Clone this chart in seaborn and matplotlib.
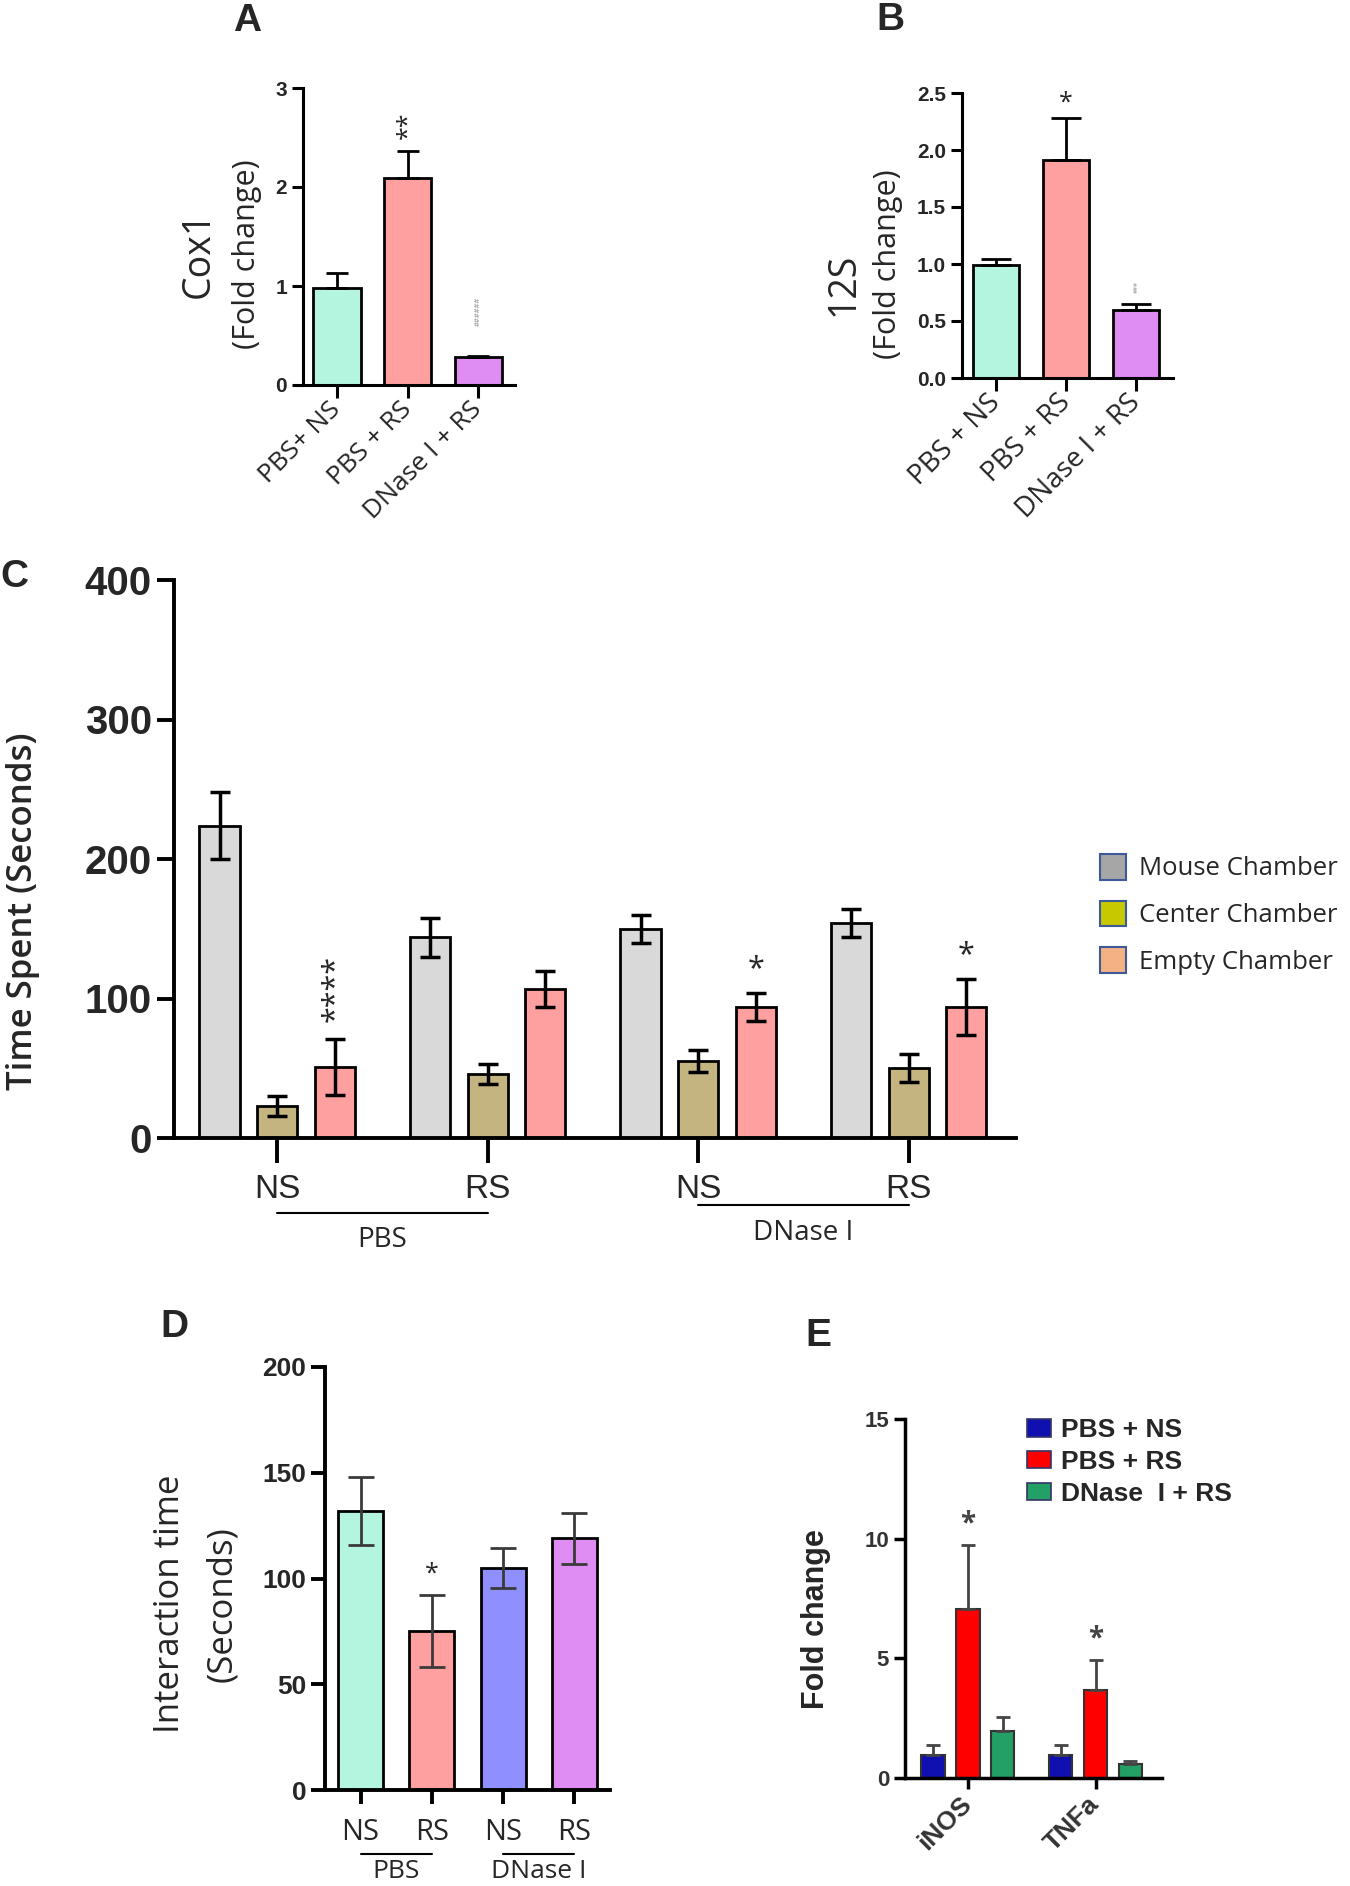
import matplotlib
matplotlib.use("Agg")
import matplotlib.pyplot as plt
from matplotlib import transforms
from matplotlib.patches import Patch
import numpy as np
import pandas as pd
import seaborn as sns

# panel A: Cox1 fold change
a_groups = ["PBS+ NS", "PBS + RS", "DNase I + RS"]
cox1_mean = [0.98, 2.09, 0.28]
cox1_sem = [0.15, 0.27, 0.01]
cox1_marks = ["", "**", "######"]

# panel B: 12S fold change
b_groups = ["PBS + NS", "PBS + RS", "DNase I + RS"]
s12_mean = [0.99, 1.91, 0.60]
s12_sem = [0.05, 0.37, 0.05]
s12_marks = ["", "*", "###"]
ab_colors = ["#b3f5de", "#ffa0a0", "#df8cf3"]

# panel C: three chamber test
c_groups = ["PBS NS", "PBS RS", "DNase NS", "DNase RS"]
c_tick_labels = ["NS", "RS", "NS", "RS"]
chambers = ["Mouse Chamber", "Center Chamber", "Empty Chamber"]
mouse_time = [224, 144, 150, 154]
mouse_sem = [24, 14, 10, 10]
center_time = [23, 46, 55, 50]
center_sem = [7, 7, 8, 10]
empty_time = [51, 107, 94, 94]
empty_sem = [20, 13, 10, 20]
empty_marks = ["****", "", "*", "*"]
c_bar_colors = ["#d9d9d9", "#c4b47f", "#ffa0a0"]
c_legend_colors = ["#a6a6a6", "#c8c800", "#f4b183"]

# panel D: interaction time
d_groups = ["PBS NS", "PBS RS", "DNase NS", "DNase RS"]
d_tick_labels = ["NS", "RS", "NS", "RS"]
interaction_time = [132, 75, 105, 119]
interaction_sem = [16, 17, 9.5, 12]
d_marks = ["", "*", "", ""]
d_colors = ["#b3f5de", "#ffa0a0", "#8f8fff", "#df8cf3"]

# panel E: iNOS / TNFa
genes = ["iNOS", "TNFa"]
e_treatments = ["PBS + NS", "PBS + RS", "DNase  I + RS"]
pbs_ns_fc = [0.97, 0.97]
pbs_ns_sem = [0.4, 0.4]
pbs_rs_fc = [7.06, 3.67]
pbs_rs_sem = [2.66, 1.25]
dnase_rs_fc = [1.98, 0.59]
dnase_rs_sem = [0.55, 0.11]
e_colors = ["#1010b0", "#ff0000", "#22a065"]

label_font = ["Open Sans", "DejaVu Sans"]
arial = ["Liberation Sans", "DejaVu Sans"]
narrow = ["Liberation Sans Narrow", "Liberation Sans", "DejaVu Sans"]

W, H = 1350, 1886

sns.set_style("ticks")
plt.rcParams["font.family"] = label_font

fig = plt.figure(figsize=(W / 100, H / 100), dpi=100)


def px_box(left, top, right, bottom):
    return [left / W, 1 - bottom / H, (right - left) / W, (bottom - top) / H]


def bar_positions(ax):
    xs, hs = [], []
    for cont in ax.containers:
        for bar in cont:
            xs.append(bar.get_x() + bar.get_width() / 2)
            hs.append(bar.get_height())
    return np.array(xs), np.array(hs)


def style_axes(ax, lw, tick_len):
    sns.despine(ax=ax)
    for side in ["left", "bottom"]:
        ax.spines[side].set_linewidth(lw)
        ax.spines[side].set_color("black")
    ax.tick_params(axis="both", width=lw, length=tick_len, color="black")


def add_marks(ax, xs, tops, marks, pad, **kw):
    for x, top, m in zip(xs, tops, marks):
        if m:
            ax.text(x, top + pad, m, ha="center", va="bottom", **kw)


def group_labels(ax, spans, names, line_y, text_y, size, lw=1.5):
    trans = transforms.blended_transform_factory(ax.transData, ax.transAxes)
    for (i0, i1), name, ly, ty in zip(spans, names, line_y, text_y):
        ax.plot([i0, i1], [ly, ly], color="black", lw=lw, transform=trans, clip_on=False)
        ax.text((i0 + i1) / 2, ty, name, transform=trans, ha="center", va="center",
                fontsize=size, family=label_font)


def side_label(ax, x, y, text, size, **kw):
    ax.text(x, y, text, transform=ax.transAxes, rotation=90, ha="center",
            va="center", fontsize=size, **kw)


# ---------------- panel A ----------------
ax_a = fig.add_axes(px_box(303, 88, 515, 385))
sns.barplot(x=a_groups, y=cox1_mean, hue=a_groups, order=a_groups, hue_order=a_groups,
            palette=ab_colors, saturation=1, legend=False, errorbar=None, width=0.67,
            edgecolor="black", linewidth=2, ax=ax_a)
xs, hs = bar_positions(ax_a)
ax_a.errorbar(xs, hs, yerr=[np.zeros(len(hs)), cox1_sem], fmt="none", ecolor="black",
              elinewidth=2, capsize=8, capthick=2, zorder=5)
ax_a.set_xlim(-0.48, 2.52)
ax_a.set_ylim(0, 3)
ax_a.set_yticks([0, 1, 2, 3], labels=["0", "1", "2", "3"], fontsize=15,
                fontweight="bold", family=arial)
ax_a.set_xticks(range(3), labels=a_groups, rotation=45, ha="right", va="center",
                rotation_mode="anchor", fontsize=19, family=label_font)
style_axes(ax_a, 2.2, 8)
ax_a.tick_params(axis="x", length=9, pad=6)
add_marks(ax_a, xs[:2], hs[:2] + np.array(cox1_sem[:2]), cox1_marks[:2], 0.12,
          fontsize=18, rotation=90)
ax_a.text(xs[2], 0.74, cox1_marks[2], rotation=90, ha="center", va="center",
          fontsize=5.5, color="#8a8a8a")
ax_a.set_xlabel("")
ax_a.set_ylabel("")
side_label(ax_a, -0.49, 0.44, "Cox1", 27)
side_label(ax_a, -0.265, 0.44, "(Fold change)", 22)

# ---------------- panel B ----------------
ax_b = fig.add_axes(px_box(962, 93, 1173, 378))
sns.barplot(x=b_groups, y=s12_mean, hue=b_groups, order=b_groups, hue_order=b_groups,
            palette=ab_colors, saturation=1, legend=False, errorbar=None, width=0.66,
            edgecolor="black", linewidth=2, ax=ax_b)
xs, hs = bar_positions(ax_b)
ax_b.errorbar(xs, hs, yerr=[np.zeros(len(hs)), s12_sem], fmt="none", ecolor="black",
              elinewidth=2, capsize=11, capthick=2, zorder=5)
ax_b.set_xlim(-0.49, 2.53)
ax_b.set_ylim(0, 2.5)
b_ticks = [0.0, 0.5, 1.0, 1.5, 2.0, 2.5]
ax_b.set_yticks(b_ticks, labels=[f"{t:.1f}" for t in b_ticks], fontsize=15,
                fontweight="bold", family=arial)
ax_b.set_xticks(range(3), labels=b_groups, rotation=45, ha="right", va="center",
                rotation_mode="anchor", fontsize=20, family=label_font)
style_axes(ax_b, 2.2, 8)
ax_b.tick_params(axis="x", length=9, pad=6)
add_marks(ax_b, xs[:2], hs[:2] + np.array(s12_sem[:2]), s12_marks[:2], 0.02, fontsize=18)
ax_b.text(xs[2], 0.8, s12_marks[2], rotation=90, ha="center", va="center",
          fontsize=4.5, color="#8a8a8a")
ax_b.set_xlabel("")
ax_b.set_ylabel("")
side_label(ax_b, -0.56, 0.33, "12S", 27)
side_label(ax_b, -0.35, 0.40, "(Fold change)", 22)

# ---------------- panel C ----------------
ax_c = fig.add_axes(px_box(174, 580, 1016, 1138))
c_df = pd.DataFrame({
    "group": c_groups * 3,
    "chamber": np.repeat(chambers, len(c_groups)),
    "time": mouse_time + center_time + empty_time,
})
sns.barplot(data=c_df, x="group", y="time", hue="chamber", order=c_groups,
            hue_order=chambers, palette=c_bar_colors, saturation=1, legend=False,
            errorbar=None, width=0.82, gap=0.3, edgecolor="black", linewidth=2, ax=ax_c)
xs, hs = bar_positions(ax_c)
c_sem = np.array(mouse_sem + center_sem + empty_sem)
ax_c.errorbar(xs, hs, yerr=c_sem, fmt="none", ecolor="black", elinewidth=2.5,
              capsize=7.5, capthick=2.5, zorder=5)
ax_c.set_xlim(-0.49, 3.51)
ax_c.set_ylim(0, 400)
ax_c.set_yticks([0, 100, 200, 300, 400], labels=["0", "100", "200", "300", "400"],
                fontsize=29, fontweight="bold", family=narrow)
ax_c.set_xticks(range(4), labels=c_tick_labels, fontsize=24, family=narrow)
style_axes(ax_c, 2.8, 12)
ax_c.tick_params(axis="x", length=18, pad=8)
ax_c.tick_params(axis="y", pad=4)
n = len(c_groups)
ax_c.text(xs[2 * n], hs[2 * n] + c_sem[2 * n] + 12, empty_marks[0], rotation=90,
          ha="center", va="bottom", fontsize=22)
add_marks(ax_c, xs[2 * n + 2:], hs[2 * n + 2:] + c_sem[2 * n + 2:], empty_marks[2:],
          6, fontsize=22)
ax_c.set_xlabel("")
ax_c.set_ylabel("")
side_label(ax_c, -0.179, 0.407, "Time Spent (Seconds)", 25, fontweight="semibold")
group_labels(ax_c, [(0, 1), (2, 3)], ["PBS", "DNase I"], [-0.134, -0.12],
             [-0.182, -0.17], 20)
c_handles = [Patch(facecolor=c, edgecolor="#3c5a9a", linewidth=1.5) for c in c_legend_colors]
fig.legend(c_handles, chambers, loc="upper left", bbox_to_anchor=(1100 / W, 1 - 854 / H),
           frameon=False, handlelength=1.0, handleheight=1.15,
           handletextpad=0.5, labelspacing=0.75, borderpad=0, borderaxespad=0,
           prop={"family": label_font, "size": 18.5})

# ---------------- panel D ----------------
ax_d = fig.add_axes(px_box(325, 1367, 610, 1790))
sns.barplot(x=d_groups, y=interaction_time, hue=d_groups, order=d_groups,
            hue_order=d_groups, palette=d_colors, saturation=1, legend=False,
            errorbar=None, width=0.63, edgecolor="black", linewidth=2, ax=ax_d)
xs, hs = bar_positions(ax_d)
ax_d.errorbar(xs, hs, yerr=interaction_sem, fmt="none", ecolor="#3a3a3a",
              elinewidth=2, capsize=9.5, capthick=2, zorder=5)
ax_d.set_xlim(-0.5, 3.5)
ax_d.set_ylim(0, 200)
ax_d.set_yticks([0, 50, 100, 150, 200], labels=["0", "50", "100", "150", "200"],
                fontsize=19, fontweight="bold", family=arial)
ax_d.set_xticks(range(4), labels=d_tick_labels, fontsize=21, family=label_font)
style_axes(ax_d, 2.8, 10)
ax_d.tick_params(axis="x", pad=10)
add_marks(ax_d, xs, hs + np.array(interaction_sem), d_marks, 4, fontsize=18)
ax_d.set_xlabel("")
ax_d.set_ylabel("")
side_label(ax_d, -0.545, 0.44, "Interaction time", 25)
side_label(ax_d, -0.36, 0.44, "(Seconds)", 25)
group_labels(ax_d, [(0, 1), (2, 3)], ["PBS", "DNase I"], [-0.151, -0.151],
             [-0.192, -0.192], 19)

# ---------------- panel E ----------------
ax_e = fig.add_axes(px_box(905, 1419, 1162, 1778))
e_df = pd.DataFrame({
    "gene": genes * 3,
    "treatment": np.repeat(e_treatments, len(genes)),
    "fc": pbs_ns_fc + pbs_rs_fc + dnase_rs_fc,
})
sns.barplot(data=e_df, x="gene", y="fc", hue="treatment", order=genes,
            hue_order=e_treatments, palette=e_colors, saturation=1, legend=False,
            errorbar=None, width=0.82, gap=0.32, edgecolor="#333333", linewidth=1.5,
            ax=ax_e)
xs, hs = bar_positions(ax_e)
e_sem = np.array(pbs_ns_sem + pbs_rs_sem + dnase_rs_sem)
ax_e.errorbar(xs, hs, yerr=[np.zeros(len(hs)), e_sem], fmt="none", ecolor="#444444",
              elinewidth=2, capsize=5, capthick=2, zorder=5)
ax_e.set_xlim(-0.49, 1.52)
ax_e.set_ylim(0, 15)
ax_e.set_yticks([0, 5, 10, 15], labels=["0", "5", "10", "15"], fontsize=16,
                fontweight="bold", family=arial, color="#333333")
ax_e.set_xticks(range(2), labels=genes, rotation=45, ha="right", va="center",
                rotation_mode="anchor", fontsize=19, fontweight="bold", family=arial,
                color="#333333")
style_axes(ax_e, 2.5, 8)
ax_e.tick_params(axis="x", pad=8)
ng = len(genes)
add_marks(ax_e, xs[ng:2 * ng], hs[ng:2 * ng] + e_sem[ng:2 * ng], ["*", "*"], 0.3,
          fontsize=20, fontweight="bold", color="#444444")
ax_e.set_xlabel("")
ax_e.set_ylabel("")
side_label(ax_e, -0.345, 0.443, "Fold change", 22, fontweight="bold", family=arial)
e_handles = [Patch(facecolor=c, edgecolor="#333366", linewidth=1.2) for c in e_colors]
fig.legend(e_handles, e_treatments, loc="upper left",
           bbox_to_anchor=(1027 / W, 1 - 1418 / H), frameon=False,
           handlelength=0.9, handleheight=0.65, handletextpad=0.4, labelspacing=0.3,
           borderpad=0, borderaxespad=0,
           prop={"family": arial, "size": 19, "weight": "bold"})

# panel letters
for letter, (px, py) in zip("ABCDE", [(247, 21), (890, 20), (14, 577), (174, 1327), (818, 1336)]):
    fig.text(px / W, 1 - py / H, letter, ha="center", va="center", fontsize=28,
             fontweight="bold", family=arial)

fig.savefig("out.png", dpi=100, facecolor="white")
